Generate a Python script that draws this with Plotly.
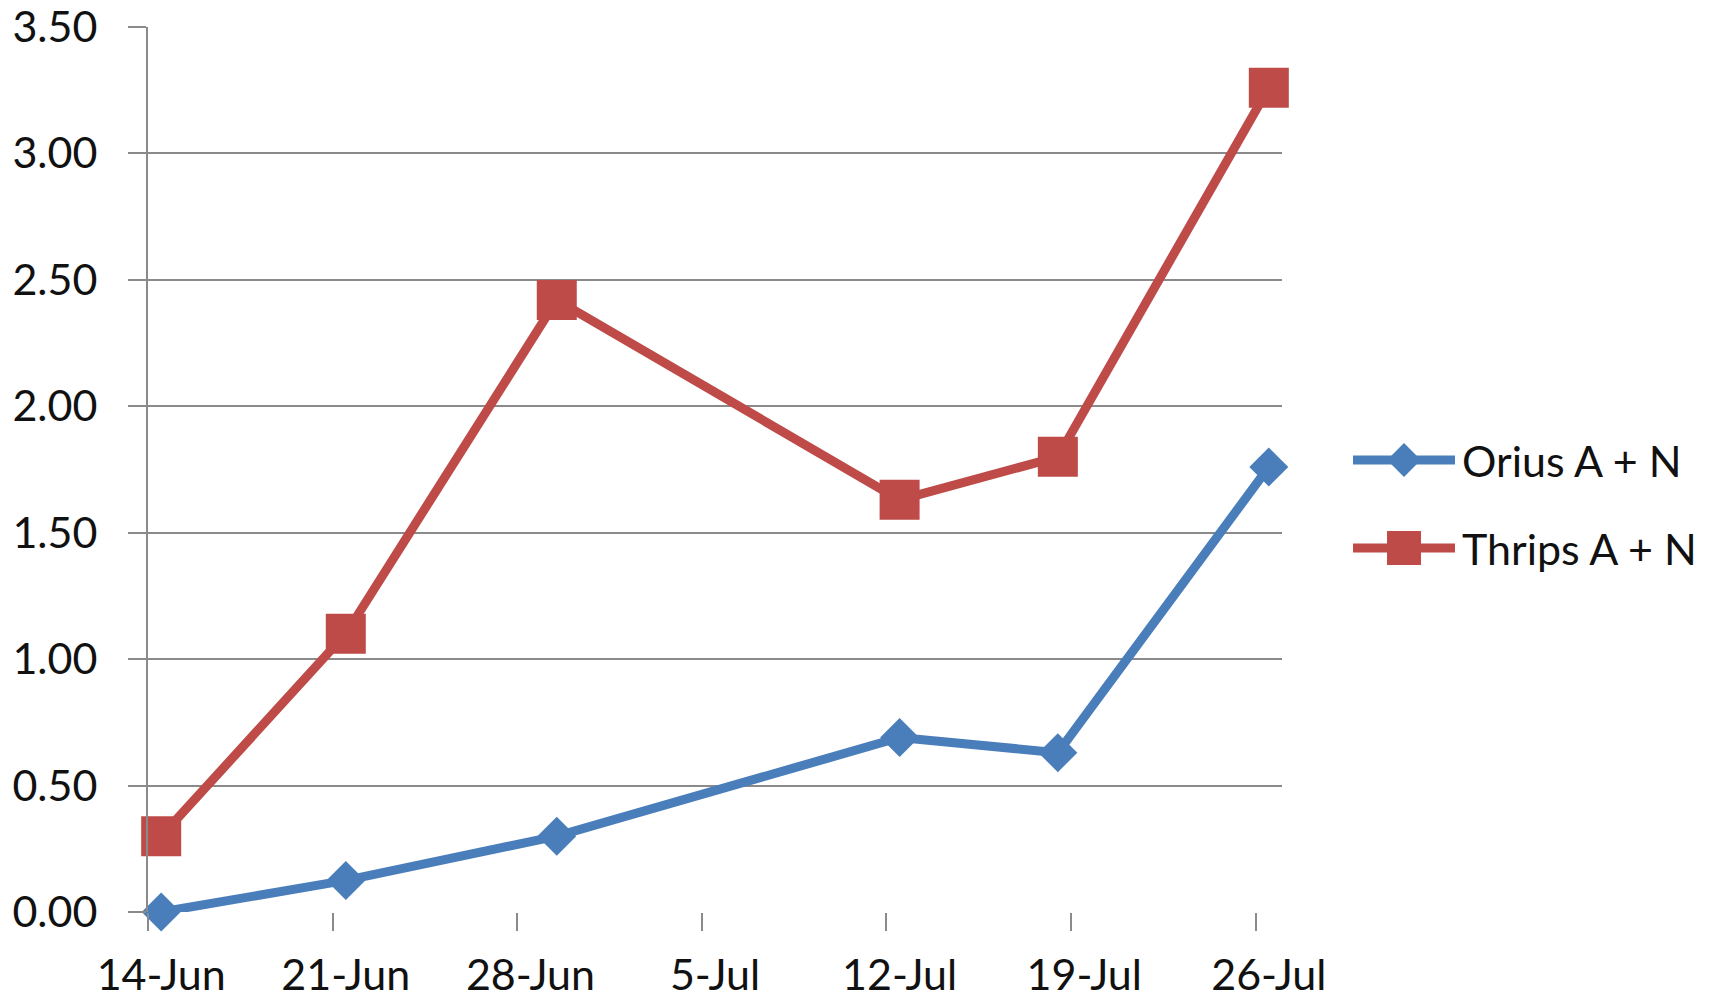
import plotly.graph_objects as go

# Sampling dates (plotted at midday of each day, as on a daily date axis)
dates = ["2010-06-14", "2010-06-21", "2010-06-29", "2010-07-12", "2010-07-18", "2010-07-26"]
orius = [0.00, 0.125, 0.30, 0.69, 0.63, 1.76]
thrips = [0.30, 1.10, 2.42, 1.63, 1.80, 3.26]
series_names = ["Orius A + N", "Thrips A + N"]

tick_days = ["2010-06-14", "2010-06-21", "2010-06-28", "2010-07-05",
             "2010-07-12", "2010-07-19", "2010-07-26"]
tick_labels = ["14-Jun", "21-Jun", "28-Jun", "5-Jul", "12-Jul", "19-Jul", "26-Jul"]
y_ticks = [0, 0.5, 1.0, 1.5, 2.0, 2.5, 3.0, 3.5]

BLUE = "#4a7ebb"
RED = "#be4b48"
GRID = "#8a8a8a"
FONT = "Lato"
FS = 43

W, H = 1715, 999
ML, MR, MT, MB = 148, 15, 27, 87
PW = W - ML - MR
PH = H - MT - MB
main_right = 1282  # right edge of the chart frame (px)
main_dom = (main_right - ML) / PW


def mid(d):
    return d + " 12:00"


fig = go.Figure()

styles = [
    dict(color=BLUE, symbol="diamond", size=30),
    dict(color=RED, symbol="square", size=40),
]
for name, vals, st in zip(series_names, [orius, thrips], styles):
    fig.add_trace(go.Scatter(
        x=[mid(d) for d in dates], y=vals, name=name, mode="lines+markers",
        line=dict(color=st["color"], width=9),
        marker=dict(symbol=st["symbol"], size=st["size"], color=st["color"]),
        showlegend=False, cliponaxis=False, xaxis="x", yaxis="y",
    ))

# Legend: a short line with the series marker, followed by the name
leg_x0, leg_x1 = 1353, 1455
leg_rows = [460, 548]
leg_top, leg_bot = 420, 590
for name, st, row in zip(series_names, styles, leg_rows):
    fig.add_trace(go.Scatter(
        x=[leg_x0, (leg_x0 + leg_x1) / 2, leg_x1], y=[row, row, row],
        mode="lines", line=dict(color=st["color"], width=9),
        showlegend=False, hoverinfo="skip", xaxis="x2", yaxis="y2",
    ))
    fig.add_trace(go.Scatter(
        x=[(leg_x0 + leg_x1) / 2], y=[row], mode="markers",
        marker=dict(symbol=st["symbol"], size=st["size"] - 6 if st["symbol"] == "square" else st["size"] - 4,
                    color=st["color"]),
        showlegend=False, hoverinfo="skip", xaxis="x2", yaxis="y2",
    ))
    fig.add_annotation(
        x=1460, y=row, xref="x2", yref="y2", text=name, showarrow=False,
        xanchor="left", yanchor="middle", font=dict(family=FONT, size=FS, color="#111111"),
    )

fig.update_layout(
    width=W, height=H,
    margin=dict(l=ML, r=MR, t=MT, b=MB, autoexpand=False),
    paper_bgcolor="white", plot_bgcolor="white",
    font=dict(family=FONT, size=FS, color="#111111"),
    xaxis=dict(
        type="date", domain=[0, main_dom], automargin=False,
        range=["2010-06-14", "2010-07-27"],
        tickvals=[mid(d) for d in tick_days], ticktext=tick_labels,
        ticks="", showgrid=False, zeroline=False,
        showline=False,
        minor=dict(tickvals=tick_days, ticks="outside", ticklen=18,
                   tickwidth=2, tickcolor=GRID, showgrid=False),
        tickfont=dict(family=FONT, size=FS),
        ticklabelstandoff=34,
    ),
    yaxis=dict(
        range=[0, 3.5], tickvals=y_ticks, tickformat=".2f", automargin=False,
        showgrid=True, gridcolor=GRID, gridwidth=2,
        zeroline=False, showline=True, linecolor=GRID, linewidth=2,
        ticks="outside", ticklen=18, tickwidth=2, tickcolor=GRID,
        tickfont=dict(family=FONT, size=FS), ticklabelstandoff=22,
    ),
    xaxis2=dict(
        domain=[(leg_x0 - 40 - ML) / PW, 1.0], range=[leg_x0 - 40, W - MR],
        visible=False, fixedrange=True, anchor="y2",
    ),
    yaxis2=dict(
        domain=[(H - MB - leg_bot) / PH, (H - MB - leg_top) / PH],
        range=[leg_bot, leg_top], visible=False, fixedrange=True, anchor="x2",
    ),
)

fig.write_html("out.html")
